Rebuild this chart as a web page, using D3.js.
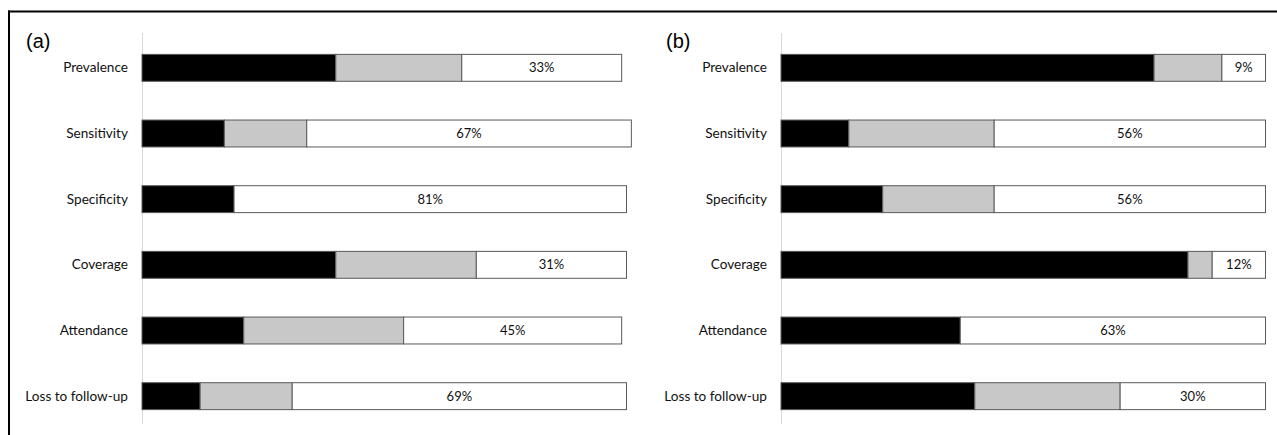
<!DOCTYPE html>
<html>
<head>
<meta charset="utf-8">
<script src="https://cdn.jsdelivr.net/npm/d3@7"></script>
<style>
  html, body { margin: 0; padding: 0; background: #fff; }
  svg { display: block; }
</style>
</head>
<body>
<svg id="chart" width="1277" height="435"></svg>
<script>
const categories = ["Prevalence", "Sensitivity", "Specificity", "Coverage", "Attendance", "Loss to follow-up"];

// Panel (a)
const aBlack = [40, 17, 19, 40, 21, 12];
const aGray  = [26, 17, 0, 29, 33, 19];
const aWhite = [33, 67, 81, 31, 45, 69];
const aLabels = ["33%", "67%", "81%", "31%", "45%", "69%"];

// Panel (b)
const bBlack = [77, 14, 21, 84, 37, 40];
const bGray  = [14, 30, 23, 5, 0, 30];
const bWhite = [9, 56, 56, 11, 63, 30];
const bLabels = ["9%", "56%", "56%", "12%", "63%", "30%"];

const panelTitles = ["(a)", "(b)"];

const svg = d3.select("#chart");

// outer frame (top and left edges)
svg.append("line").attr("x1", 8).attr("x2", 1277).attr("y1", 11.5).attr("y2", 11.5)
  .attr("stroke", "#000").attr("stroke-width", 2);
svg.append("line").attr("x1", 9).attr("x2", 9).attr("y1", 10.5).attr("y2", 435)
  .attr("stroke", "#000").attr("stroke-width", 2);

const panels = [
  { x0: 142, title: panelTitles[0], titleX: 26, black: aBlack, gray: aGray, white: aWhite, labels: aLabels },
  { x0: 781, title: panelTitles[1], titleX: 666, black: bBlack, gray: bGray, white: bWhite, labels: bLabels }
];

const y = d3.scaleBand().domain(categories).range([35, 429]).paddingInner(0.59).paddingOuter(0.295);

panels.forEach(p => {
  const x = d3.scaleLinear().domain([0, 100]).range([p.x0, p.x0 + 484.5]);
  const g = svg.append("g");

  g.append("text").attr("x", p.titleX).attr("y", 48)
    .attr("font-family", "Liberation Sans, Arial, sans-serif").attr("font-size", 20)
    .attr("fill", "#000").text(p.title);

  // vertical axis line
  g.append("line").attr("x1", p.x0 + 0.5).attr("x2", p.x0 + 0.5).attr("y1", 33).attr("y2", 424)
    .attr("stroke", "#d9d9d9").attr("stroke-width", 1);

  // category labels
  const axis = d3.axisLeft(y).tickSize(0).tickPadding(14);
  const ag = g.append("g").attr("transform", `translate(${p.x0},0)`).call(axis);
  ag.select(".domain").remove();
  ag.selectAll("text").attr("font-family", "Lato, 'Open Sans', sans-serif").attr("font-size", 13.6).attr("fill", "#111");

  const rows = categories.map((c, i) => {
    const b = p.black[i], gr = p.gray[i], w = p.white[i];
    return { c, segs: [
      { v0: 0, v1: b, fill: "#000000" },
      { v0: b, v1: b + gr, fill: "#c8c8c8" },
      { v0: b + gr, v1: b + gr + w, fill: "#ffffff", label: p.labels[i] }
    ] };
  });

  rows.forEach(r => {
    r.segs.filter(s => s.v1 > s.v0).forEach(s => {
      g.append("rect")
        .attr("x", x(s.v0)).attr("y", y(r.c))
        .attr("width", x(s.v1) - x(s.v0)).attr("height", y.bandwidth())
        .attr("fill", s.fill).attr("stroke", "#5a5a5a").attr("stroke-width", 1);
      if (s.label) {
        g.append("text")
          .attr("x", (x(s.v0) + x(s.v1)) / 2).attr("y", y(r.c) + y.bandwidth() / 2)
          .attr("dy", "0.35em").attr("text-anchor", "middle")
          .attr("font-family", "Lato, 'Open Sans', sans-serif").attr("font-size", 13)
          .attr("fill", "#111").text(s.label);
      }
    });
  });
});
</script>
</body>
</html>
